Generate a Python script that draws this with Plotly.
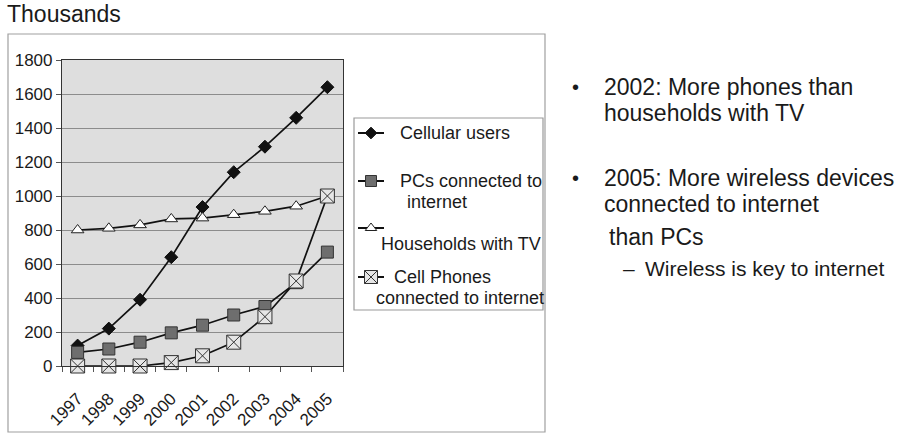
import plotly.graph_objects as go

W, H = 899, 435
FONT = "Liberation Sans, Arial, sans-serif"

# data (thousands)
years = ["1997", "1998", "1999", "2000", "2001", "2002", "2003", "2004", "2005"]
cellular_users = [120, 220, 390, 640, 935, 1140, 1290, 1460, 1640]
pcs_internet = [80, 100, 140, 195, 240, 300, 350, 490, 670]
households_tv = [800, 810, 830, 865, 870, 890, 910, 940, 1000]
cell_phones_internet = [0, 0, 0, 20, 60, 140, 290, 500, 1000]

y_ticks = [0, 200, 400, 600, 800, 1000, 1200, 1400, 1600, 1800]

series = [
    ("Cellular users", cellular_users,
     dict(symbol="diamond", size=10, color="#111111", line=dict(color="#111111", width=1))),
    ("PCs connected to internet", pcs_internet,
     dict(symbol="square", size=12, color="#6e6e6e", line=dict(color="#333333", width=1))),
    ("Households with TV", households_tv,
     dict(symbol="triangle-up", size=11, color="white", line=dict(color="#222222", width=1))),
    ("Cell Phones connected to internet", cell_phones_internet,
     dict(symbol="square-x", size=14, color="#e6e6e6", line=dict(color="#333333", width=1))),
]


def px(x):
    return x / W


def py(y):
    return 1 - y / H


fig = go.Figure()

for name, vals, mk in series:
    fig.add_trace(go.Scatter(
        x=years, y=vals, name=name, mode="lines+markers",
        line=dict(color="#111111", width=1.7),
        marker=mk, cliponaxis=False, showlegend=False,
    ))

# hand-made legend, drawn on its own hidden axes (pixel units)
legend_rows = [
    # symbol y, text lines [(x, y, text)]
    (133, [(398, 133, "Cellular users")]),
    (181, [(398, 181, "PCs connected to"), (405, 202, "internet")]),
    (228, [(379, 244, "Households with TV")]),
    (277, [(392, 277, "Cell Phones"), (374, 298, "connected to internet")]),
]
for (name, vals, mk), (sy, lines) in zip(series, legend_rows):
    fig.add_trace(go.Scatter(
        x=[358, 384], y=[sy, sy], mode="lines", xaxis="x2", yaxis="y2",
        line=dict(color="#111111", width=2), showlegend=False, hoverinfo="skip",
    ))
    small = dict(mk)
    small["size"] = mk["size"] - 1
    fig.add_trace(go.Scatter(
        x=[371], y=[sy], mode="markers", xaxis="x2", yaxis="y2",
        marker=small, showlegend=False, hoverinfo="skip", cliponaxis=False,
    ))
    for tx, ty, t in lines:
        fig.add_annotation(x=px(tx), y=py(ty), xref="paper", yref="paper",
                           text=t, showarrow=False, xanchor="left", yanchor="middle",
                           font=dict(size=18, color="#1a1a1a", family=FONT))

shapes = [
    # grey plot background only behind the main chart
    dict(type="rect", xref="x domain", yref="y domain", x0=0, x1=1, y0=0, y1=1,
         fillcolor="#dedede", line=dict(width=0), layer="below"),
    # outer chart frame
    dict(type="rect", xref="paper", yref="paper", x0=px(8), x1=px(545), y0=py(432), y1=py(34),
         line=dict(color="#a0a0a0", width=1.2), layer="below"),
    # legend frame
    dict(type="rect", xref="paper", yref="paper", x0=px(354), x1=px(543), y0=py(310), y1=py(118),
         line=dict(color="#9a9a9a", width=1.2)),
]

notes = [
    (570, 87, "•", 20),
    (602, 87, "2002: More phones than", 23),
    (602, 113, "households with TV", 23),
    (570, 178, "•", 20),
    (602, 178, "2005: More wireless devices", 23),
    (602, 204, "connected to internet", 23),
    (607, 237, "than PCs", 23),
    (621, 268, "–", 21),
    (643, 268, "Wireless is key to internet", 21),
]
for nx, ny, t, fs in notes:
    fig.add_annotation(x=px(nx), y=py(ny), xref="paper", yref="paper", text=t,
                       showarrow=False, xanchor="left", yanchor="middle",
                       font=dict(size=fs, color="#1a1a1a", family=FONT))

fig.add_annotation(x=px(5), y=py(14), xref="paper", yref="paper", text="Thousands",
                   showarrow=False, xanchor="left", yanchor="middle",
                   font=dict(size=23, color="#1a1a1a", family=FONT))

fig.update_layout(
    width=W, height=H,
    margin=dict(l=0, r=0, t=0, b=0, autoexpand=False),
    paper_bgcolor="white",
    plot_bgcolor="white",
    font=dict(family=FONT, color="#1a1a1a"),
    shapes=shapes,
    xaxis=dict(
        domain=[px(62), px(343)], type="category", range=[-0.5, 8.5],
        tickangle=-45, tickson="boundaries", ticks="outside", ticklen=5,
        tickcolor="#555555", showgrid=False, showline=True, linecolor="#333333",
        linewidth=1.2, mirror=True, tickfont=dict(size=17), ticklabelstandoff=15,
        automargin=False,
    ),
    yaxis=dict(
        domain=[py(366), py(60)], range=[0, 1800], tickvals=y_ticks,
        ticks="outside", ticklen=5, tickcolor="#555555",
        showgrid=True, gridcolor="#8c8c8c", gridwidth=1, zeroline=False,
        showline=True, linecolor="#333333", linewidth=1.2, mirror=True,
        tickfont=dict(size=17), automargin=False,
    ),
    xaxis2=dict(domain=[px(354), px(543)], range=[354, 543], visible=False,
                anchor="y2", fixedrange=True, automargin=False),
    yaxis2=dict(domain=[py(310), py(118)], range=[310, 118], visible=False,
                anchor="x2", fixedrange=True, automargin=False),
)

# the page body has a default 8px margin; drop it so the figure fills the window
fig.write_html("out.html", config={"displayModeBar": False},
               post_script="document.body.style.margin='0';")
